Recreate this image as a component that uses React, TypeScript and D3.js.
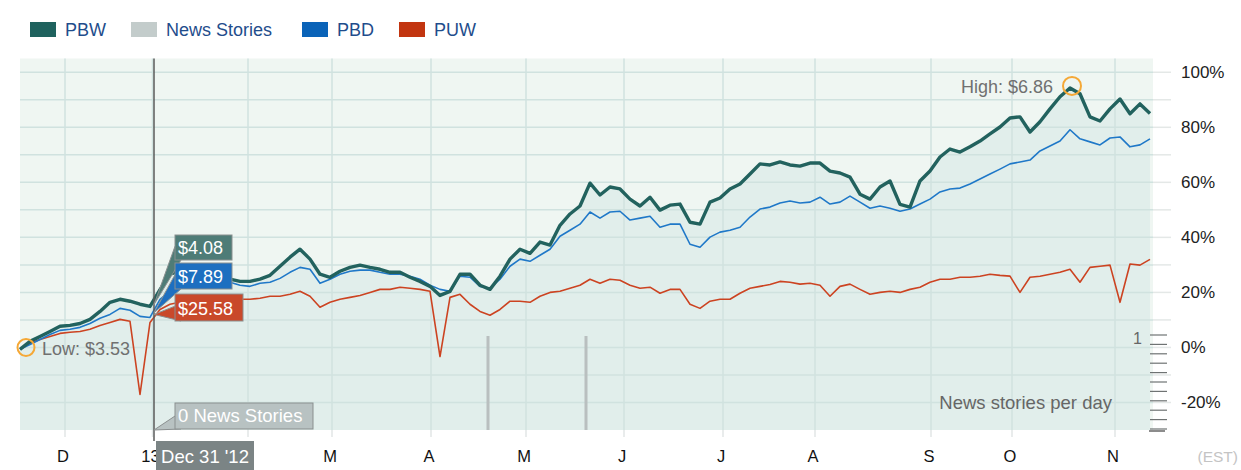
import React from 'react';
import * as d3 from 'd3';

// ---- data (percent change since start, sampled evenly along the time axis) ----
const pbwValues = [
  -0.7, 2.2, 4.0, 5.8, 7.7, 8.0, 8.7, 10.2, 13.1, 16.4, 17.5, 16.8, 15.7, 14.9, 21.0, 26.6, 27.7, 27.7, 26.6, 26.2,
  25.5, 24.8, 24.0, 24.0, 24.8, 26.2, 29.5, 32.8, 35.7, 32.1, 26.6, 25.5, 27.7, 29.1, 29.9, 29.1, 28.4, 27.3, 27.3, 25.5,
  24.0, 22.2, 18.9, 20.4, 26.6, 26.6, 22.6, 21.1, 25.9, 32.1, 35.7, 34.2, 38.3, 37.2, 44.4, 48.5, 51.4, 59.7, 55.4, 58.3,
  57.6, 53.9, 51.4, 54.6, 49.9, 51.7, 52.1, 45.5, 44.8, 52.8, 54.3, 57.6, 59.4, 63.0, 66.7, 66.3, 67.4, 66.3, 65.9, 67.0,
  67.0, 64.1, 63.4, 61.9, 55.7, 53.9, 58.3, 60.5, 52.0, 51.0, 60.5, 64.1, 69.2, 72.1, 71.0, 72.9, 75.0, 77.6, 80.1, 83.4,
  83.8, 78.3, 82.0, 86.7, 91.1, 94.3, 92.2, 83.8, 82.3, 86.7, 90.3, 84.9, 88.5, 85.0,
];
const pbdValues = [
  -0.7, 1.1, 2.9, 4.7, 6.2, 6.6, 7.3, 8.7, 10.6, 12.0, 14.2, 13.5, 11.3, 10.9, 17.5, 20.4, 22.0, 22.2, 22.2, 22.2,
  22.6, 23.7, 22.6, 22.2, 23.3, 23.7, 25.1, 27.3, 29.1, 28.4, 23.3, 24.8, 26.6, 27.7, 28.1, 28.1, 27.3, 26.6, 26.6, 25.9,
  24.8, 22.6, 21.1, 20.4, 25.9, 25.5, 22.2, 21.5, 24.8, 29.5, 32.1, 31.3, 33.5, 35.7, 40.4, 42.6, 44.8, 49.2, 47.0, 49.2,
  49.5, 46.3, 47.0, 47.7, 43.7, 44.8, 44.8, 37.5, 36.4, 40.1, 41.9, 42.6, 43.7, 47.4, 50.3, 51.0, 52.5, 53.2, 52.5, 52.8,
  54.6, 52.1, 52.8, 55.0, 52.8, 50.6, 51.4, 50.6, 49.5, 50.3, 52.1, 53.9, 56.5, 57.6, 57.9, 59.4, 61.2, 63.0, 64.8, 66.7,
  67.4, 68.1, 71.4, 73.2, 75.0, 79.1, 75.8, 74.7, 73.6, 76.1, 76.5, 72.9, 73.6, 75.8,
];
const puwValues = [
  -0.7, 1.5, 2.9, 4.0, 5.1, 5.5, 5.8, 6.6, 8.0, 9.1, 10.2, 9.5, -17.1, 9.1, 13.8, 15.7, 16.4, 16.8, 16.8, 17.1,
  17.1, 17.5, 17.5, 17.5, 17.9, 18.6, 18.6, 19.3, 20.4, 18.6, 14.6, 16.4, 17.5, 18.2, 18.9, 20.0, 21.1, 21.1, 21.9, 21.5,
  21.1, 20.4, -3.3, 18.2, 19.3, 15.7, 13.1, 11.7, 13.8, 16.8, 16.8, 16.4, 18.6, 20.0, 20.4, 21.5, 22.6, 24.8, 23.3, 24.8,
  24.4, 22.6, 21.5, 21.9, 19.7, 21.1, 21.1, 15.7, 14.2, 16.8, 17.5, 17.5, 19.7, 21.5, 22.2, 22.9, 24.0, 23.7, 23.0, 23.3,
  22.6, 18.6, 22.2, 23.0, 21.1, 19.3, 20.0, 20.4, 20.0, 21.1, 21.9, 23.7, 24.8, 24.8, 25.5, 25.5, 25.9, 26.6, 26.2, 25.9,
  20.0, 25.5, 25.9, 26.6, 27.3, 28.4, 23.7, 29.1, 29.5, 29.9, 16.4, 30.3, 29.9, 32.0,
];

const monthLabels = ['D', '13', 'F', 'M', 'A', 'M', 'J', 'J', 'A', 'S', 'O', 'N'];
const monthStartIndex = [4.5, 13.25, 22.8, 31.2, 41.1, 50.6, 60.4, 70.3, 79.5, 91.1, 99.2, 109.5];

const yGridValues = [-20, -10, 0, 10, 20, 30, 40, 50, 60, 70, 80, 90, 100];
const yLabelValues = [-20, 0, 20, 40, 60, 80, 100];

const newsIndex = [46.8, 56.6];
const newsCount = [1, 1];
const newsTicks = [0, 0.1, 0.2, 0.3, 0.4, 0.5, 0.6, 0.7, 0.8, 0.9, 1.0];

const legendNames = ['PBW', 'News Stories', 'PBD', 'PUW'];
const legendColors = ['#1f625e', '#c3cccb', '#0a63b8', '#c23510'];

const cursorIndex = 13.4;
const cursorDate = "Dec 31 '12";
const cursorPrices = ['$4.08', '$7.89', '$25.58'];
const cursorPct = [15.58, 12.6, 12.0];
const lowLabel = 'Low: $3.53';
const highLabel = 'High: $6.86';
const lowIndex = 0.6;
const lowPct = 0;
const highIndex = 105.2;
const highPct = 94.3;

const FONT = '"Liberation Sans", Arial, Helvetica, sans-serif';

export default function App() {
  const left = 20, right = 1153, top = 58.5, bottom = 430;
  const x = d3.scaleLinear().domain([0, pbwValues.length - 1]).range([20, 1150]);
  const y = d3.scaleLinear().domain([-30, 105]).range([bottom, top]);
  const yNews = d3.scaleLinear().domain([0, 1]).range([bottom, 336]);

  const line = d3.line<number>().x((_, i) => x(i)).y((d) => y(d));
  const area = d3.area<number>().x((_, i) => x(i)).y0(bottom).y1((d) => y(d));

  const cx = x(cursorIndex);
  const boxColors = ['#4e7c77', '#1d6fc0', '#c9492a'];
  const boxes = [
    { y: 235, w: 57, h: 25 },
    { y: 263, w: 57, h: 26 },
    { y: 294, w: 68, h: 27 },
  ];

  const legendX = [30, 131, 302, 399];

  return (
    <svg width={1241} height={470} style={{ position: 'absolute', left: 0, top: 0, background: '#fff' }} fontFamily={FONT}>
      {/* legend */}
      {legendNames.map((n, i) => (
        <g key={n}>
          <rect x={legendX[i]} y={22} width={26} height={15} fill={legendColors[i]} />
          <text x={legendX[i] + 35} y={35.5} fontSize={18} fill="#1f4d8c">{n}</text>
        </g>
      ))}

      {/* plot background */}
      <rect x={left} y={top} width={right - left} height={bottom - top} fill="#eff6f2" />
      <path d={area(pbwValues) || ''} fill="#e1eeeb" />

      {/* horizontal grid */}
      {yGridValues.map((v) => (
        <g key={v}>
          <line x1={left} x2={right} y1={y(v)} y2={y(v)} stroke="#d0e2df" strokeWidth={1.5} />
          <line x1={right} x2={1171} y1={y(v)} y2={y(v)} stroke="#e4e8e7" strokeWidth={1.5} />
        </g>
      ))}
      {/* vertical grid */}
      {monthStartIndex.map((m, i) => (
        <g key={i}>
          <line x1={x(m)} x2={x(m)} y1={top} y2={bottom} stroke="#d0e2df" strokeWidth={1.5} />
          <line x1={x(m)} x2={x(m)} y1={bottom} y2={bottom + 7} stroke="#e2e6e6" strokeWidth={1.5} />
        </g>
      ))}

      {/* news bars */}
      {newsIndex.map((n, i) => (
        <line key={i} x1={x(n)} x2={x(n)} y1={yNews(0)} y2={yNews(newsCount[i])} stroke="#b9bfbf" strokeWidth={3} />
      ))}

      {/* news axis */}
      {newsTicks.map((t) => (
        <line key={t} x1={1150} x2={1167} y1={yNews(t) - 1} y2={yNews(t) - 1} stroke="#6f7373" strokeWidth={1.2} />
      ))}
      <line x1={1149} x2={1165} y1={bottom + 1} y2={bottom + 1} stroke="#666" strokeWidth={1.5} />
      <text x={1142} y={344} fontSize={16} fill="#666" textAnchor="end">1</text>
      <text x={1112} y={409} fontSize={18.5} fill="#666" textAnchor="end">News stories per day</text>

      {/* series */}
      <path d={line(puwValues) || ''} fill="none" stroke="#cc4321" strokeWidth={1.6} strokeLinejoin="round" />
      <path d={line(pbdValues) || ''} fill="none" stroke="#1f78c8" strokeWidth={1.6} strokeLinejoin="round" />
      <path d={line(pbwValues) || ''} fill="none" stroke="#22625e" strokeWidth={3.4} strokeLinejoin="round" />

      {/* y labels */}
      {yLabelValues.map((v) => (
        <text key={v} x={1181} y={y(v) + 6} fontSize={17} fill="#222">{`${v}%`}</text>
      ))}

      {/* x labels */}
      {monthStartIndex.map((m, i) => (
        <text key={i} x={x(m) - 2} y={462} fontSize={16.5} fill="#111" textAnchor="middle">{monthLabels[i]}</text>
      ))}
      <text x={1238} y={462} fontSize={15.5} fill="#c4c4c4" textAnchor="end">(EST)</text>

      {/* low / high markers */}
      <circle cx={x(lowIndex)} cy={y(lowPct)} r={8.5} fill="none" stroke="#f5a836" strokeWidth={2} />
      <text x={42} y={355} fontSize={18} fill="#707070">{lowLabel}</text>
      <circle cx={x(highIndex)} cy={y(highPct) - 2} r={9} fill="none" stroke="#f5a836" strokeWidth={2} />
      <text x={1053} y={93} fontSize={18} fill="#707070" textAnchor="end">{highLabel}</text>

      {/* cursor */}
      <line x1={cx} x2={cx} y1={top} y2={441} stroke="#5a5a5a" strokeWidth={1.5} />

      {/* tooltip boxes */}
      {boxes.map((b, i) => {
        const tipY = y(cursorPct[i]);
        const bx = 175;
        return (
          <g key={i}>
            <path
              d={`M${bx},${b.y + b.h * 0.45} L${cx},${tipY} L${bx + 6},${b.y + b.h}`}
              fill={boxColors[i]}
              stroke="#8a8f8f"
              strokeWidth={1}
            />
            <rect x={bx} y={b.y} width={b.w} height={b.h} fill={boxColors[i]} stroke="#8a8f8f" strokeWidth={1} />
            <text x={bx + 3} y={b.y + b.h - 6} fontSize={18} fill="#fff">{cursorPrices[i]}</text>
          </g>
        );
      })}

      {/* news tooltip */}
      <path d={`M175,416 L${cx},${bottom} L181,429`} fill="#b8c2c2" stroke="#8a8f8f" strokeWidth={1} />
      <rect x={175} y={403} width={138} height={26} fill="#b8c2c2" stroke="#8a8f8f" strokeWidth={1} />
      <text x={178} y={422} fontSize={18.5} fill="#fff">0 News Stories</text>

      {/* date tooltip */}
      <rect x={cx + 2} y={441} width={98} height={30} fill="#7b8485" />
      <text x={cx + 51} y={463} fontSize={18.5} fill="#fff" textAnchor="middle">{cursorDate}</text>
    </svg>
  );
}
